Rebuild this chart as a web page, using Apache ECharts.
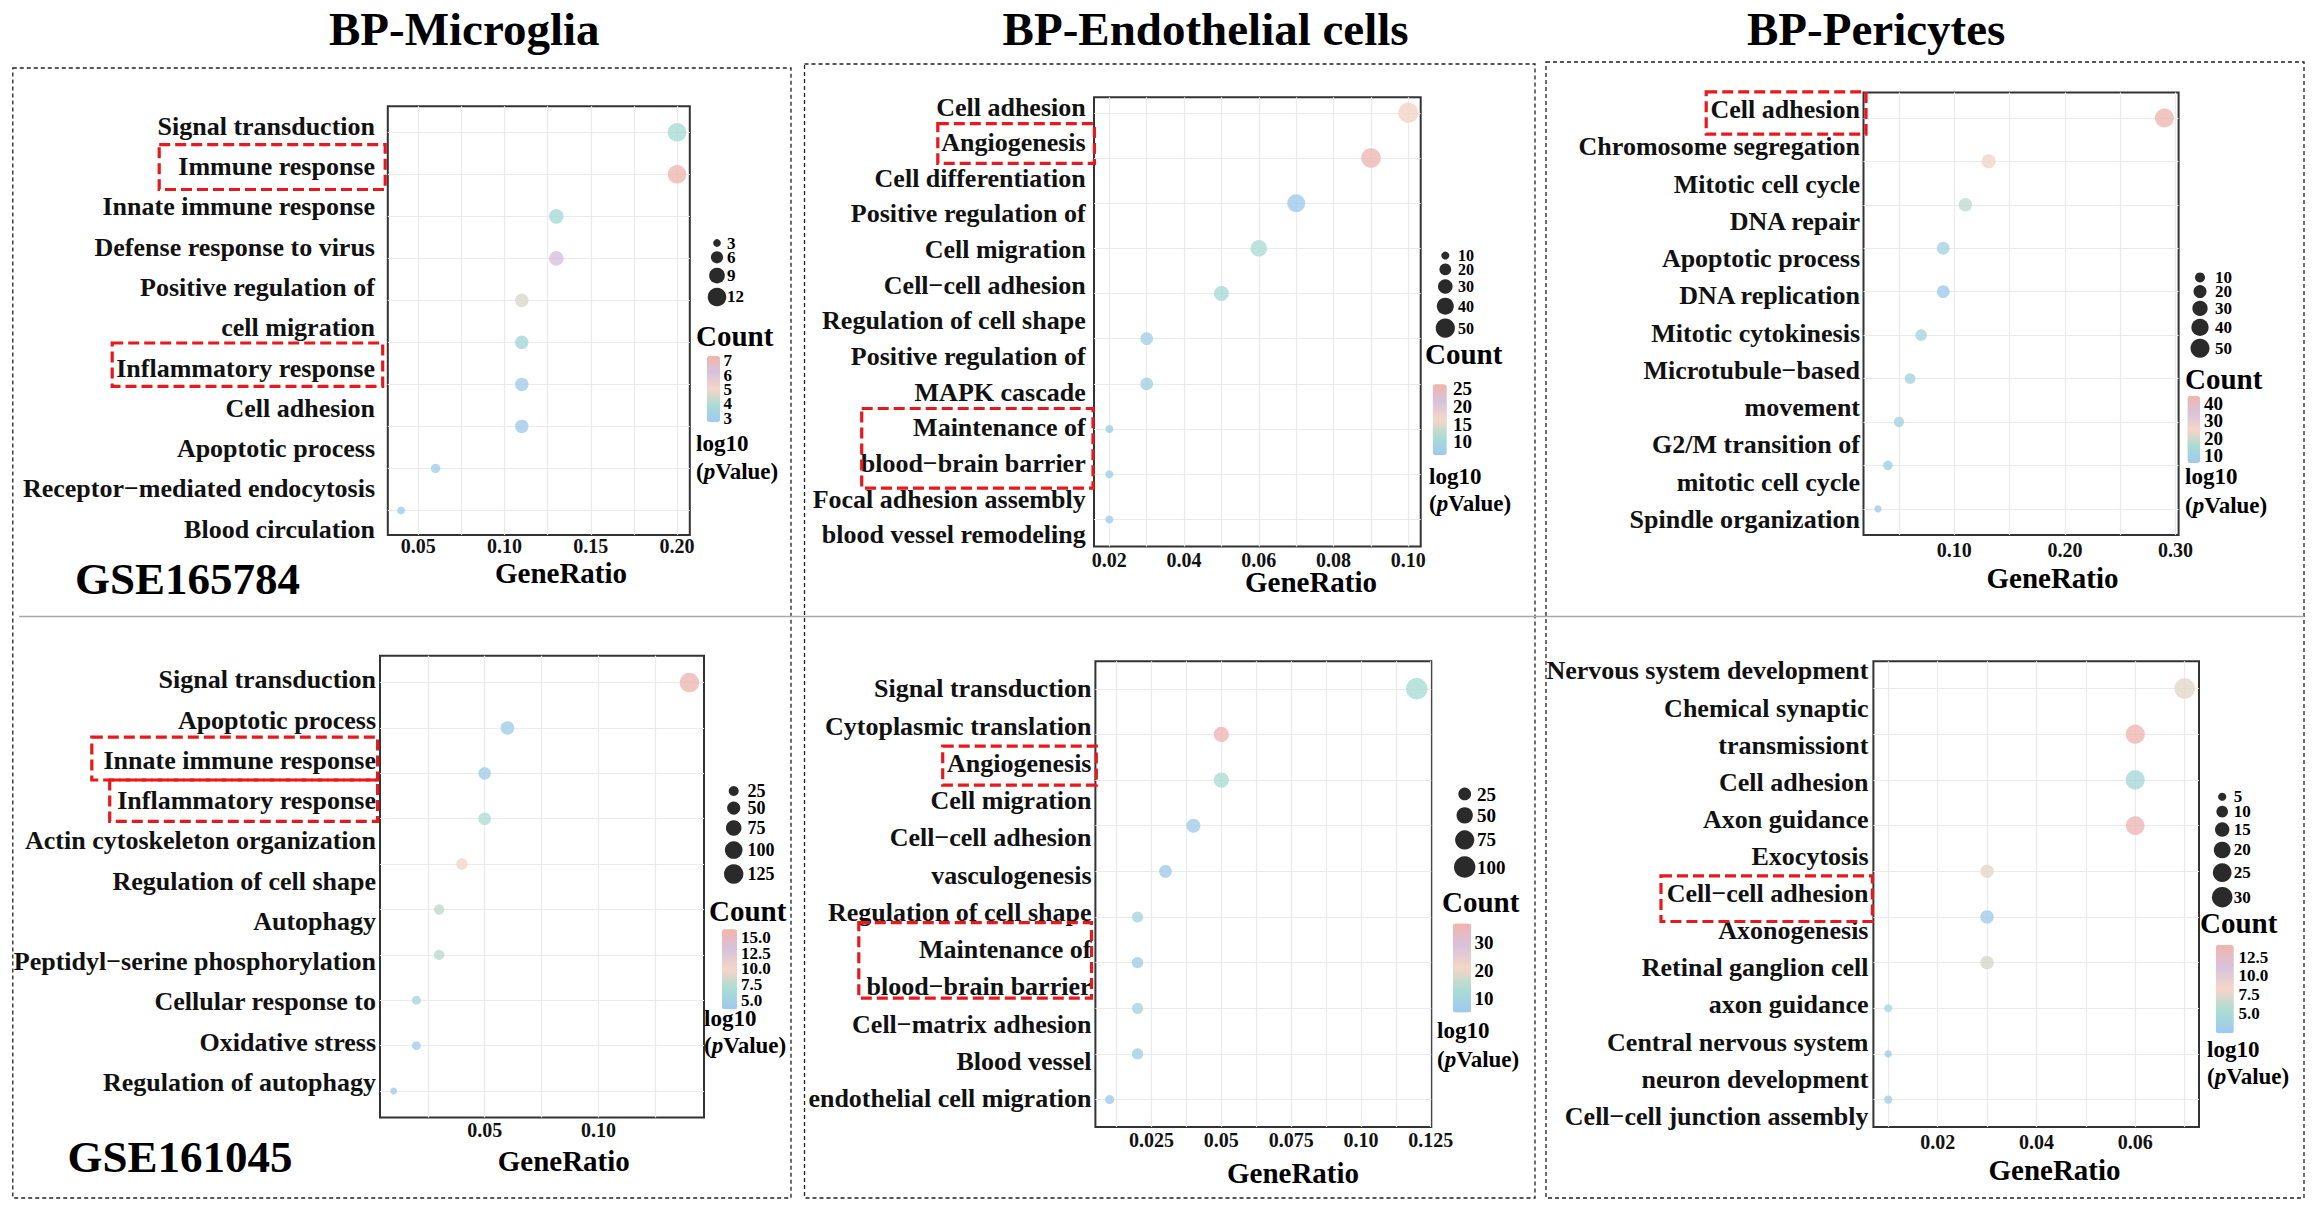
<!DOCTYPE html>
<html>
<head>
<meta charset="utf-8">
<script src="https://cdn.jsdelivr.net/npm/echarts@6/dist/echarts.min.js"></script>
<style>
html, body {margin: 0; padding: 0; background: #fff;}
#contain {width: 2318px; height: 1211px;}
</style>
</head>
<body>
<div id="contain"></div>
<script>
// ---- data ----
var terms1 = ['Signal transduction', 'Immune response', 'Innate immune response', 'Defense response to virus',
    'Positive regulation of cell migration', 'Inflammatory response', 'Cell adhesion', 'Apoptotic process',
    'Receptor-mediated endocytosis', 'Blood circulation'];
var labels1 = ['Signal transduction', 'Immune response', 'Innate immune response', 'Defense response to virus',
    'Positive regulation of', 'cell migration', 'Inflammatory response', 'Cell adhesion', 'Apoptotic process',
    'Receptor\u2212mediated endocytosis', 'Blood circulation'];
var ratio1 = [0.200, 0.200, 0.130, 0.130, 0.110, 0.110, 0.110, 0.110, 0.060, 0.040];
var count1 = [12, 12, 8, 8, 7, 7, 7, 7, 4, 3];
var logp1 = [3.9, 7.2, 3.8, 6.2, 4.6, 3.55, 3.0, 2.9, 3.1, 2.9];
var xTicks1 = [0.05, 0.10, 0.15, 0.20];
var xText1 = ['0.05', '0.10', '0.15', '0.20'];
var xGrid1 = [0.05, 0.075, 0.10, 0.125, 0.15, 0.175, 0.20];
var keys1 = [3, 6, 9, 12];
var cTicks1 = [3, 4, 5, 6, 7];
var cText1 = ['3', '4', '5', '6', '7'];

var terms2 = ['Cell adhesion', 'Angiogenesis', 'Cell differentiation', 'Positive regulation of cell migration',
    'Cell-cell adhesion', 'Regulation of cell shape', 'Positive regulation of MAPK cascade',
    'Maintenance of blood-brain barrier', 'Focal adhesion assembly', 'Blood vessel remodeling'];
var labels2 = ['Cell adhesion', 'Angiogenesis', 'Cell differentiation', 'Positive regulation of', 'Cell migration',
    'Cell\u2212cell adhesion', 'Regulation of cell shape', 'Positive regulation of', 'MAPK cascade',
    'Maintenance of', 'blood\u2212brain barrier', 'Focal adhesion assembly', 'blood vessel remodeling'];
var ratio2 = [0.100, 0.090, 0.070, 0.060, 0.050, 0.030, 0.030, 0.020, 0.020, 0.020];
var count2 = [56, 52, 44, 38, 31, 23, 23, 10, 10, 10];
var logp2 = [16.5, 25.5, 7.0, 11.5, 11.0, 8.0, 8.0, 7.5, 7.5, 7.5];
var xTicks2 = [0.02, 0.04, 0.06, 0.08, 0.10];
var xText2 = ['0.02', '0.04', '0.06', '0.08', '0.10'];
var xGrid2 = [0.02, 0.03, 0.04, 0.05, 0.06, 0.07, 0.08, 0.09, 0.10];
var keys2 = [10, 20, 30, 40, 50];
var cTicks2 = [10, 15, 20, 25];
var cText2 = ['10', '15', '20', '25'];

var terms3 = ['Cell adhesion', 'Chromosome segregation', 'Mitotic cell cycle', 'DNA repair', 'Apoptotic process',
    'DNA replication', 'Mitotic cytokinesis', 'Microtubule-based movement', 'G2/M transition of mitotic cell cycle',
    'Spindle organization'];
var labels3 = ['Cell adhesion', 'Chromosome segregation', 'Mitotic cell cycle', 'DNA repair', 'Apoptotic process',
    'DNA replication', 'Mitotic cytokinesis', 'Microtubule\u2212based', 'movement', 'G2/M transition of',
    'mitotic cell cycle', 'Spindle organization'];
var ratio3 = [0.290, 0.131, 0.110, 0.090, 0.090, 0.070, 0.060, 0.050, 0.040, 0.031];
var count3 = [50, 24, 22, 19, 19, 15, 12, 11, 9, 4];
var logp3 = [43, 26, 18, 10, 7, 11, 10.5, 10, 9, 7.5];
var xTicks3 = [0.10, 0.20, 0.30];
var xText3 = ['0.10', '0.20', '0.30'];
var xGrid3 = [0.05, 0.10, 0.15, 0.20, 0.25, 0.30];
var keys3 = [10, 20, 30, 40, 50];
var cTicks3 = [10, 20, 30, 40];
var cText3 = ['10', '20', '30', '40'];

var terms4 = ['Signal transduction', 'Apoptotic process', 'Innate immune response', 'Inflammatory response',
    'Actin cytoskeleton organization', 'Regulation of cell shape', 'Autophagy', 'Peptidyl-serine phosphorylation',
    'Cellular response to oxidative stress', 'Regulation of autophagy'];
var labels4 = ['Signal transduction', 'Apoptotic process', 'Innate immune response', 'Inflammatory response',
    'Actin cytoskeleton organization', 'Regulation of cell shape', 'Autophagy', 'Peptidyl\u2212serine phosphorylation',
    'Cellular response to', 'Oxidative stress', 'Regulation of autophagy'];
var ratio4 = [0.140, 0.060, 0.050, 0.050, 0.040, 0.030, 0.030, 0.020, 0.020, 0.010];
var count4 = [126, 54, 45, 45, 36, 27, 27, 18, 18, 9];
var logp4 = [15.8, 4.2, 4.5, 7.0, 10.0, 7.8, 7.6, 5.8, 4.6, 4.2];
var xTicks4 = [0.05, 0.10];
var xText4 = ['0.05', '0.10'];
var xGrid4 = [0.025, 0.05, 0.075, 0.10, 0.125];
var keys4 = [25, 50, 75, 100, 125];
var cTicks4 = [5, 7.5, 10, 12.5, 15];
var cText4 = ['5.0', '7.5', '10.0', '12.5', '15.0'];

var terms5 = ['Signal transduction', 'Cytoplasmic translation', 'Angiogenesis', 'Cell migration', 'Cell-cell adhesion',
    'Vasculogenesis', 'Regulation of cell shape', 'Maintenance of blood-brain barrier', 'Cell-matrix adhesion',
    'Blood vessel endothelial cell migration'];
var labels5 = ['Signal transduction', 'Cytoplasmic translation', 'Angiogenesis', 'Cell migration',
    'Cell\u2212cell adhesion', 'vasculogenesis', 'Regulation of cell shape', 'Maintenance of',
    'blood\u2212brain barrier', 'Cell\u2212matrix adhesion', 'Blood vessel', 'endothelial cell migration'];
var ratio5 = [0.120, 0.050, 0.050, 0.040, 0.030, 0.020, 0.020, 0.020, 0.020, 0.010];
var count5 = [100, 41, 41, 33, 25, 17, 17, 17, 17, 8];
var logp5 = [13, 35, 13.5, 7, 6.5, 10, 7, 9.5, 7.5, 6.5];
var xTicks5 = [0.025, 0.05, 0.075, 0.10, 0.125];
var xText5 = ['0.025', '0.05', '0.075', '0.10', '0.125'];
var xGrid5 = [0.0125, 0.025, 0.0375, 0.05, 0.0625, 0.075, 0.0875, 0.10, 0.1125, 0.125];
var keys5 = [25, 50, 75, 100];
var cTicks5 = [10, 20, 30];
var cText5 = ['10', '20', '30'];

var terms6 = ['Nervous system development', 'Chemical synaptic transmission', 'Cell adhesion', 'Axon guidance',
    'Exocytosis', 'Cell-cell adhesion', 'Axonogenesis', 'Retinal ganglion cell axon guidance',
    'Central nervous system neuron development', 'Cell-cell junction assembly'];
var labels6 = ['Nervous system development', 'Chemical synaptic', 'transmissiont', 'Cell adhesion', 'Axon guidance',
    'Exocytosis', 'Cell\u2212cell adhesion', 'Axonogenesis', 'Retinal ganglion cell', 'axon guidance',
    'Central nervous system', 'neuron development', 'Cell\u2212cell junction assembly'];
var ratio6 = [0.070, 0.060, 0.060, 0.060, 0.030, 0.030, 0.030, 0.010, 0.010, 0.010];
var count6 = [30, 26, 26, 25, 13, 13, 13, 5, 4, 5];
var logp6 = [7.6, 13.8, 4.7, 13.5, 7.6, 2.8, 7.0, 4.5, 3.0, 3.2];
var xTicks6 = [0.02, 0.04, 0.06];
var xText6 = ['0.02', '0.04', '0.06'];
var xGrid6 = [0.01, 0.02, 0.03, 0.04, 0.05, 0.06, 0.07];
var keys6 = [5, 10, 15, 20, 25, 30];
var cTicks6 = [5, 7.5, 10, 12.5];
var cText6 = ['5.0', '7.5', '10.0', '12.5'];

var titles = ['BP-Microglia', 'BP-Endothelial cells', 'BP-Pericytes'];
var datasets = ['GSE165784', 'GSE161045'];

var sets = [
    {terms: terms1, labels: labels1, ratio: ratio1, count: count1, logp: logp1, xTicks: xTicks1, xText: xText1, xGrid: xGrid1, keys: keys1, cTicks: cTicks1, cText: cText1},
    {terms: terms2, labels: labels2, ratio: ratio2, count: count2, logp: logp2, xTicks: xTicks2, xText: xText2, xGrid: xGrid2, keys: keys2, cTicks: cTicks2, cText: cText2},
    {terms: terms3, labels: labels3, ratio: ratio3, count: count3, logp: logp3, xTicks: xTicks3, xText: xText3, xGrid: xGrid3, keys: keys3, cTicks: cTicks3, cText: cText3},
    {terms: terms4, labels: labels4, ratio: ratio4, count: count4, logp: logp4, xTicks: xTicks4, xText: xText4, xGrid: xGrid4, keys: keys4, cTicks: cTicks4, cText: cText4},
    {terms: terms5, labels: labels5, ratio: ratio5, count: count5, logp: logp5, xTicks: xTicks5, xText: xText5, xGrid: xGrid5, keys: keys5, cTicks: cTicks5, cText: cText5},
    {terms: terms6, labels: labels6, ratio: ratio6, count: count6, logp: logp6, xTicks: xTicks6, xText: xText6, xGrid: xGrid6, keys: keys6, cTicks: cTicks6, cText: cText6}
];

// ---- layout (pixels) ----
var layout = [
    {plot: [387.8, 106.2, 689.8, 535], x: [0.0323, 0.2074], dotY: [132.3, 42.01], labY: [126.4, 40.27], labGap: 12.8, tickGap: 1,
        sz: [-3.2, 6.3], key: [717, 243, 4.3, 727], keyFont: 17, cbar: [707, 356, 13, 66], cRange: [2.72, 7.35], cTextX: 723.5, cFont: 17,
        count: [696, 336], logp: [696, 443.5, 471], gene: [561, 572.5]},
    {plot: [1094, 97.3, 1420.7, 546.6], x: [0.0159, 0.1033], dotY: [112.8, 45.18], labY: [107, 35.66], labGap: 8.3, tickGap: 3,
        sz: [-1, 2.85], key: [1445.3, 255.6, 3.9, 1458], keyFont: 16, cbar: [1432.7, 384.3, 14, 70.7], cRange: [6.3, 26.3], cTextX: 1453, cFont: 19,
        count: [1425, 354], logp: [1429, 476.6, 503.8], gene: [1311, 582]},
    {plot: [1863.5, 92.6, 2178.6, 535], x: [0.0179, 0.3028], dotY: [117.9, 43.44], labY: [109.7, 37.25], labGap: 3.5, tickGap: 5,
        sz: [2.7, 2.3], key: [2200, 277.4, 2.7, 2215], keyFont: 17, cbar: [2187.5, 396, 12.5, 67], cRange: [5.3, 44.7], cTextX: 2204, cFont: 19,
        count: [2185, 379], logp: [2185, 476.6, 505], gene: [2052.5, 578]},
    {plot: [380, 655.7, 704, 1117.5], x: [0.004, 0.1464], dotY: [682.6, 45.38], labY: [679.9, 40.25], labGap: 4, tickGap: 2,
        sz: [2.4, 1.52], key: [733.7, 791, 5.5, 747.4], keyFont: 18, cbar: [722, 929.3, 15, 80], cRange: [3.57, 16.3], cTextX: 741, cFont: 17,
        count: [709, 910.6], logp: [704, 1018, 1045], gene: [563.8, 1161]},
    {plot: [1095.4, 661.2, 1431.3, 1126.9], x: [0.0049, 0.1252], dotY: [688.8, 45.64], labY: [688.8, 37.27], labGap: 3.9, tickGap: 3,
        sz: [4, 1.75], key: [1464.7, 794, 6.8, 1477], keyFont: 19, cbar: [1453, 923.4, 18, 89], cRange: [5.2, 36.6], cTextX: 1474.4, cFont: 19,
        count: [1442, 902], logp: [1437, 1030.6, 1059.8], gene: [1293, 1172.8]},
    {plot: [1873.4, 661.2, 2199, 1126.9], x: [0.007, 0.0729], dotY: [688.5, 45.68], labY: [670.9, 37.12], labGap: 4.9, tickGap: 5,
        sz: [-0.5, 3.85], key: [2222.2, 796.8, 4.9, 2233.7], keyFont: 17, cbar: [2215.8, 944.9, 17.9, 88.4], cRange: [2.27, 14.17], cTextX: 2238.6, cFont: 17,
        count: [2200, 923.4], logp: [2207, 1049, 1076], gene: [2054.5, 1169.7]}
];
var titlePos = [[464.3, 29], [1205.6, 29], [1876.2, 29]];
var gsePos = [[187.5, 578.7], [180, 1157.3]];
var panelBoxes = [[12.8, 68, 791, 1198], [804.5, 64, 1535, 1198], [1546, 62, 2304, 1198]];
var redBoxes = [
    [159.2, 144.7, 385.2, 189.5], [112.2, 343, 382.7, 386.3],
    [937.8, 123.7, 1094.4, 163.4], [861.7, 408.5, 1093, 488.2],
    [1706.2, 91.8, 1866, 134.2],
    [91.8, 737.2, 377.6, 780], [109.7, 780, 377.6, 821.3],
    [942.7, 746.1, 1096.3, 785.1], [858.8, 922.6, 1091.5, 998.2],
    [1661, 875.9, 1872.4, 921.5]
];

var FONT = '"Liberation Serif", "Times New Roman", serif';
var PALETTE = ['#9fc8ef', '#a9dcd5', '#f5d6c6', '#d7c2dc', '#f2b4aa'];

function tickText(vals, texts) {
    return function (v) {
        for (var i = 0; i < vals.length; i++) {
            if (Math.abs(vals[i] - v) < 1e-9) return texts[i];
        }
        return '';
    };
}

function txt(x, y, s, size, align, extra) {
    var style = {text: s, fontSize: size, fontWeight: 'bold', fontFamily: FONT, fill: '#000',
        align: align || 'left', verticalAlign: 'middle'};
    if (extra) for (var k in extra) style[k] = extra[k];
    return {type: 'text', x: x, y: y, silent: true, style: style};
}

var grid = [], xAxis = [], yAxis = [], series = [], visualMap = [], graphic = [];
var n = sets.length;

sets.forEach(function (d, k) {
    var L = layout[k];
    var w = L.plot[2] - L.plot[0], h = L.plot[3] - L.plot[1];
    var rows = d.ratio.map(function (r, i) { return i; });
    var lines = d.labels.map(function (s, i) { return i; });
    var yMin = -(L.dotY[0] - L.plot[1]) / L.dotY[1];
    var lMin = -(L.labY[0] - L.plot[1]) / L.labY[1];
    var sizeOf = function (c) { return L.sz[0] + L.sz[1] * Math.sqrt(c); };

    grid[k] = {left: L.plot[0], top: L.plot[1], width: w, height: h, show: true,
        borderColor: '#333', borderWidth: 2, backgroundColor: 'transparent', outerBoundsMode: 'none'};
    grid[n + k] = {left: L.cbar[0], top: L.cbar[1], width: L.cbar[2], height: L.cbar[3], show: false, outerBoundsMode: 'none'};

    xAxis[k] = {
        type: 'value', gridIndex: k, min: L.x[0], max: L.x[1],
        axisLine: {show: false},
        axisTick: {show: false, customValues: d.xGrid},
        splitLine: {show: true, lineStyle: {color: '#ebebeb', width: 1.2}},
        axisLabel: {customValues: d.xTicks, formatter: tickText(d.xTicks, d.xText), margin: L.tickGap,
            interval: 0, showMinLabel: true, showMaxLabel: true,
            fontSize: 20, fontWeight: 'bold', fontFamily: FONT, color: '#111'}
    };
    xAxis[n + k] = {type: 'value', gridIndex: n + k, show: false, min: 0, max: 1};

    yAxis[2 * k] = {
        type: 'value', gridIndex: k, inverse: true, position: 'right',
        min: yMin, max: yMin + h / L.dotY[1],
        axisLine: {show: false},
        axisTick: {show: false, customValues: rows},
        axisLabel: {show: false},
        splitLine: {show: true, lineStyle: {color: '#ebebeb', width: 1.2}}
    };
    yAxis[2 * k + 1] = {
        type: 'value', gridIndex: k, inverse: true, position: 'left',
        min: lMin, max: lMin + h / L.labY[1],
        axisLine: {show: false},
        axisTick: {show: false},
        splitLine: {show: false},
        axisLabel: {customValues: lines, formatter: function (v) { return d.labels[Math.round(v)]; },
            interval: 0, showMinLabel: true, showMaxLabel: true, lineHeight: Math.min(30, L.labY[1] - 2),
            margin: L.labGap, fontSize: 26, fontWeight: 'bold', fontFamily: FONT, color: '#111'}
    };
    // colour bar scale: ticks drawn by the axis, tick texts placed from the same scale below
    yAxis[2 * n + k] = {
        type: 'value', gridIndex: n + k, position: 'right', z: 10,
        min: L.cRange[0], max: L.cRange[1],
        axisLine: {show: false},
        splitLine: {show: false},
        axisTick: {show: true, inside: true, length: L.cbar[2] * 0.25, customValues: d.cTicks,
            lineStyle: {color: '#ffffff', width: 1}},
        axisLabel: {show: false}
    };

    series.push({
        name: titles[k % 3],
        type: 'scatter',
        xAxisIndex: k,
        yAxisIndex: 2 * k,
        symbol: 'circle',
        silent: true,
        z: 3,
        symbolSize: function (val) { return sizeOf(val[2]); },
        data: d.ratio.map(function (r, i) {
            return {name: d.terms[i], value: [r, rows[i], d.count[i], d.logp[i]]};
        })
    });

    visualMap.push({
        type: 'continuous', seriesIndex: k, dimension: 3,
        min: L.cRange[0], max: L.cRange[1],
        inRange: {color: PALETTE},
        calculable: false, hoverLink: false, realtime: false,
        orient: 'vertical', left: L.cbar[0], top: L.cbar[1], padding: 0,
        itemWidth: L.cbar[2], itemHeight: L.cbar[3], text: null
    });

    // size legend
    var cy = L.key[1], prev = 0;
    d.keys.forEach(function (c, i) {
        var dia = sizeOf(c);
        if (i > 0) cy += (prev + dia) / 2 + L.key[2];
        prev = dia;
        graphic.push({type: 'circle', silent: true, shape: {cx: L.key[0], cy: cy, r: dia / 2}, style: {fill: '#2a2a2a'}});
        graphic.push(txt(L.key[3], cy, String(c), L.keyFont, 'left', {lineHeight: 12}));
    });

    graphic.push(txt(L.count[0], L.count[1], 'Count', 29));
    graphic.push(txt(L.logp[0], L.logp[1], 'log10', 23, 'left', {lineHeight: 22}));
    graphic.push(txt(L.logp[0], L.logp[2], '({i|p}Value)', 23, 'left', {
        lineHeight: 22,
        rich: {i: {fontStyle: 'italic', fontWeight: 'bold', fontSize: 23, lineHeight: 22, fontFamily: FONT, fill: '#000'}}
    }));
    graphic.push(txt(L.gene[0], L.gene[1], 'GeneRatio', 29, 'center'));
});

titles.forEach(function (t, i) {
    graphic.push(txt(titlePos[i][0], titlePos[i][1], t, 47, 'center'));
});
datasets.forEach(function (t, i) {
    graphic.push(txt(gsePos[i][0], gsePos[i][1], t, 45, 'center'));
});
panelBoxes.forEach(function (b) {
    graphic.push({type: 'rect', silent: true, shape: {x: b[0], y: b[1], width: b[2] - b[0], height: b[3] - b[1]},
        style: {fill: 'none', stroke: '#222', lineWidth: 1.3, lineDash: [4, 3]}});
});
graphic.push({type: 'line', silent: true, shape: {x1: 19, y1: 616.4, x2: 2304, y2: 616.4},
    style: {stroke: '#a8a8a8', lineWidth: 1.5}});
redBoxes.forEach(function (b) {
    graphic.push({type: 'rect', silent: true, z: 100, shape: {x: b[0], y: b[1], width: b[2] - b[0], height: b[3] - b[1]},
        style: {fill: 'none', stroke: '#e8191c', lineWidth: 3.2, lineDash: [11, 5]}});
});

var myChart = echarts.init(document.getElementById('contain'), null, {renderer: 'svg'});
myChart.setOption({
    animation: false,
    backgroundColor: '#ffffff',
    grid: grid,
    xAxis: xAxis,
    yAxis: yAxis,
    visualMap: visualMap,
    series: series
});

// colour bar tick texts, positioned through the colour-bar axis scale
sets.forEach(function (d, k) {
    var L = layout[k];
    d.cTicks.forEach(function (v, i) {
        var y = myChart.convertToPixel({yAxisIndex: 2 * n + k}, v);
        graphic.push(txt(L.cTextX, y, d.cText[i], L.cFont, 'left', {lineHeight: 12}));
    });
});
myChart.setOption({graphic: {elements: graphic}});
</script>
</body>
</html>
